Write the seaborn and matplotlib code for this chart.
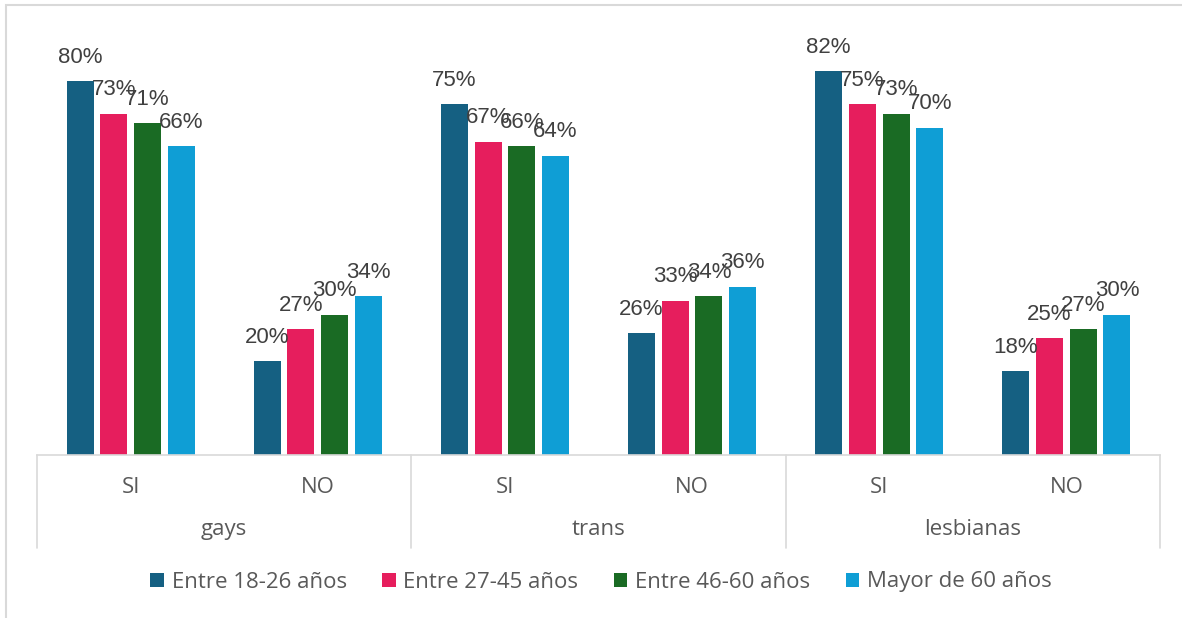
import numpy as np
import pandas as pd
import matplotlib.pyplot as plt
import seaborn as sns
from matplotlib.patches import Rectangle
from matplotlib.transforms import blended_transform_factory

# data
grupos = ["gays", "trans", "lesbianas"]
respuestas = ["SI", "NO"]
edades = ["Entre 18-26 años", "Entre 27-45 años", "Entre 46-60 años", "Mayor de 60 años"]
gays_si = [80, 73, 71, 66]
gays_no = [20, 27, 30, 34]
trans_si = [75, 67, 66, 64]
trans_no = [26, 33, 34, 36]
lesb_si = [82, 75, 73, 70]
lesb_no = [18, 25, 27, 30]
colores = ["#156082", "#E61E5D", "#1A6B24", "#0F9ED5"]

series = [gays_si, gays_no, trans_si, trans_no, lesb_si, lesb_no]
rows = []
for i, vals in enumerate(series):
    slot = grupos[i // 2] + " " + respuestas[i % 2]
    for edad, v in zip(edades, vals):
        rows.append({"slot": slot, "edad": edad, "valor": v / 100})
df = pd.DataFrame(rows)
slots = list(df["slot"].unique())

sns.set_style("white")
plt.rcParams["font.family"] = ["Open Sans", "DejaVu Sans"]
texto = "#595959"

fig = plt.figure(figsize=(11.82, 6.18), dpi=100)
ax = fig.add_axes([37 / 1182, 163 / 618, 1123 / 1182, 421 / 618])

sns.barplot(data=df, x="slot", y="valor", hue="edad", order=slots, hue_order=edades,
            palette=colores, width=0.72, gap=0.2, saturation=1, ax=ax, legend=True,
            edgecolor="none")

for cont, edad in zip(ax.containers, edades):
    vals = df[df["edad"] == edad]["valor"].values
    ax.bar_label(cont, labels=[f"{v:.0%}" for v in vals], padding=9.5,
                 fontsize=16, color="#404040", family="Liberation Sans")

ax.set_xlim(-0.5, 5.5)
ax.set_ylim(0, 0.9)
ax.set_yticks([])
ax.set_xlabel("")
ax.set_ylabel("")
ax.set_xticks(range(6))
ax.set_xticklabels([respuestas[i % 2] for i in range(6)], fontsize=16, color=texto)
ax.tick_params(axis="x", length=0, pad=16)
for s in ["top", "right", "left"]:
    ax.spines[s].set_visible(False)
ax.spines["bottom"].set_color("#D9D9D9")
ax.spines["bottom"].set_linewidth(1.2)

tr = blended_transform_factory(ax.transData, ax.transAxes)
for xb in [-0.5, 1.5, 3.5, 5.5]:
    ax.plot([xb, xb], [0, -0.221], transform=tr, color="#D9D9D9", lw=1.2, clip_on=False)
for j, g in enumerate(grupos):
    ax.text(2 * j + 0.5, -0.178, g, transform=tr, ha="center", va="center",
            fontsize=16, color=texto)

handles, labels = ax.get_legend_handles_labels()
ax.legend_.remove()
fig.legend(handles, labels, loc="center", bbox_to_anchor=(601 / 1182, 36 / 618), ncol=4,
           frameon=False, fontsize=16, labelcolor=texto, handlelength=0.6, handleheight=0.6,
           handletextpad=0.35, columnspacing=1.6)

# outer chart frame (cropped at right and bottom)
fig.patches.append(Rectangle((6 / 1182, -0.1), 1.1, 1.1 - 5 / 618 + 0.0, transform=fig.transFigure,
                             fill=False, edgecolor="#D9D9D9", lw=1.5))

fig.savefig("out.png", dpi=100)
